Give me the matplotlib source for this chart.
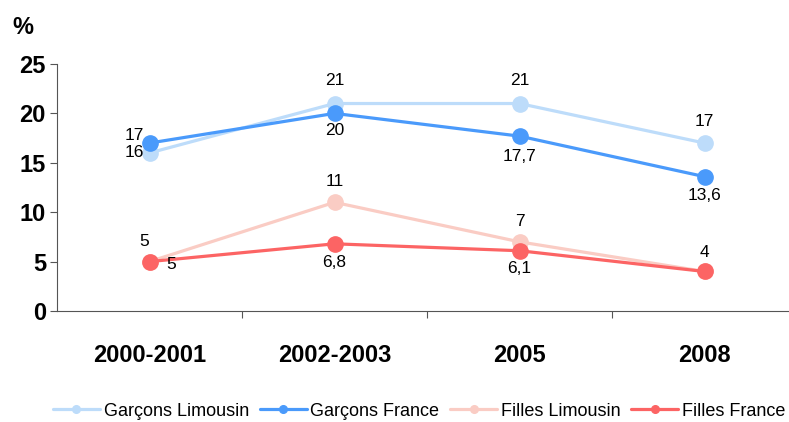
import matplotlib.pyplot as plt

plt.rcParams['font.family'] = ['Liberation Sans', 'DejaVu Sans']

categories = ["2000-2001", "2002-2003", "2005", "2008"]
garcons_limousin = [16, 21, 21, 17]
garcons_france = [17, 20, 17.7, 13.6]
filles_limousin = [5, 11, 7, 4]
filles_france = [5, 6.8, 6.1, 4]

series = [
    ("Garçons Limousin", garcons_limousin, "#BDDCFA"),
    ("Garçons France", garcons_france, "#4A9AFB"),
    ("Filles Limousin", filles_limousin, "#FACCC4"),
    ("Filles France", filles_france, "#FC6464"),
]

# label offsets in pixels (dx, dy, ha), None = no label
offsets = {
    "Garçons Limousin": [(-5, 0, "right"), (0, 23, "center"), (0, 23, "center"), (0, 22, "center")],
    "Garçons France": [(-5, 8, "right"), (0, -17, "center"), (0, -20, "center"), (0, -19, "center")],
    "Filles Limousin": [(-5, 20, "center"), (0, 21, "center"), (0, 20, "center"), (0, 19, "center")],
    "Filles France": [(22, -3, "center"), (0, -19, "center"), (0, -18, "center"), None],
}

def fmt(v):
    s = f"{v:g}"
    return s.replace(".", ",")

fig = plt.figure(figsize=(7.89, 4.22), dpi=100)
ax = fig.add_axes([57 / 789, 111 / 422, 740 / 789, 247 / 422])

x = list(range(len(categories)))
for name, vals, color in series:
    ax.plot(x, vals, color=color, lw=2.3, marker="o", ms=11, label=name,
            solid_capstyle="round", zorder=3)
    for i, v in enumerate(vals):
        off = offsets[name][i]
        if off is None:
            continue
        dx, dy, ha = off
        ax.annotate(fmt(v), (i, v), xytext=(dx, dy), textcoords="offset pixels",
                    ha=ha, va="center", fontsize=12.5, color="black", zorder=4)

ax.set_xlim(-0.5, 3.5)
ax.set_ylim(0, 25)
ax.set_yticks([0, 5, 10, 15, 20, 25])
ax.set_yticklabels(["0", "5", "10", "15", "20", "25"], fontsize=17, fontweight="bold")
ax.set_xticks([0.5, 1.5, 2.5])
ax.set_xticklabels([])
ax.set_xticks(x, minor=True)
ax.set_xticklabels(categories, minor=True, fontsize=17, fontweight="bold")
ax.tick_params(axis="x", which="minor", length=0, pad=24)
ax.tick_params(axis="x", which="major", length=5, color="#555555")
ax.tick_params(axis="y", length=5, color="#555555", pad=3)

for s in ["top", "right"]:
    ax.spines[s].set_visible(False)
ax.spines["left"].set_color("#555555")
ax.spines["bottom"].set_color("#555555")

fig.text(12 / 789, 1 - 27 / 422, "%", fontsize=17, fontweight="bold", va="center")

fig.legend(loc="center", bbox_to_anchor=(419 / 789, 1 - 411 / 422), ncol=4,
           frameon=False, fontsize=13, markerscale=0.5, handlelength=2.6,
           handletextpad=0.2, columnspacing=0.6)

fig.savefig("out.png", dpi=100)
